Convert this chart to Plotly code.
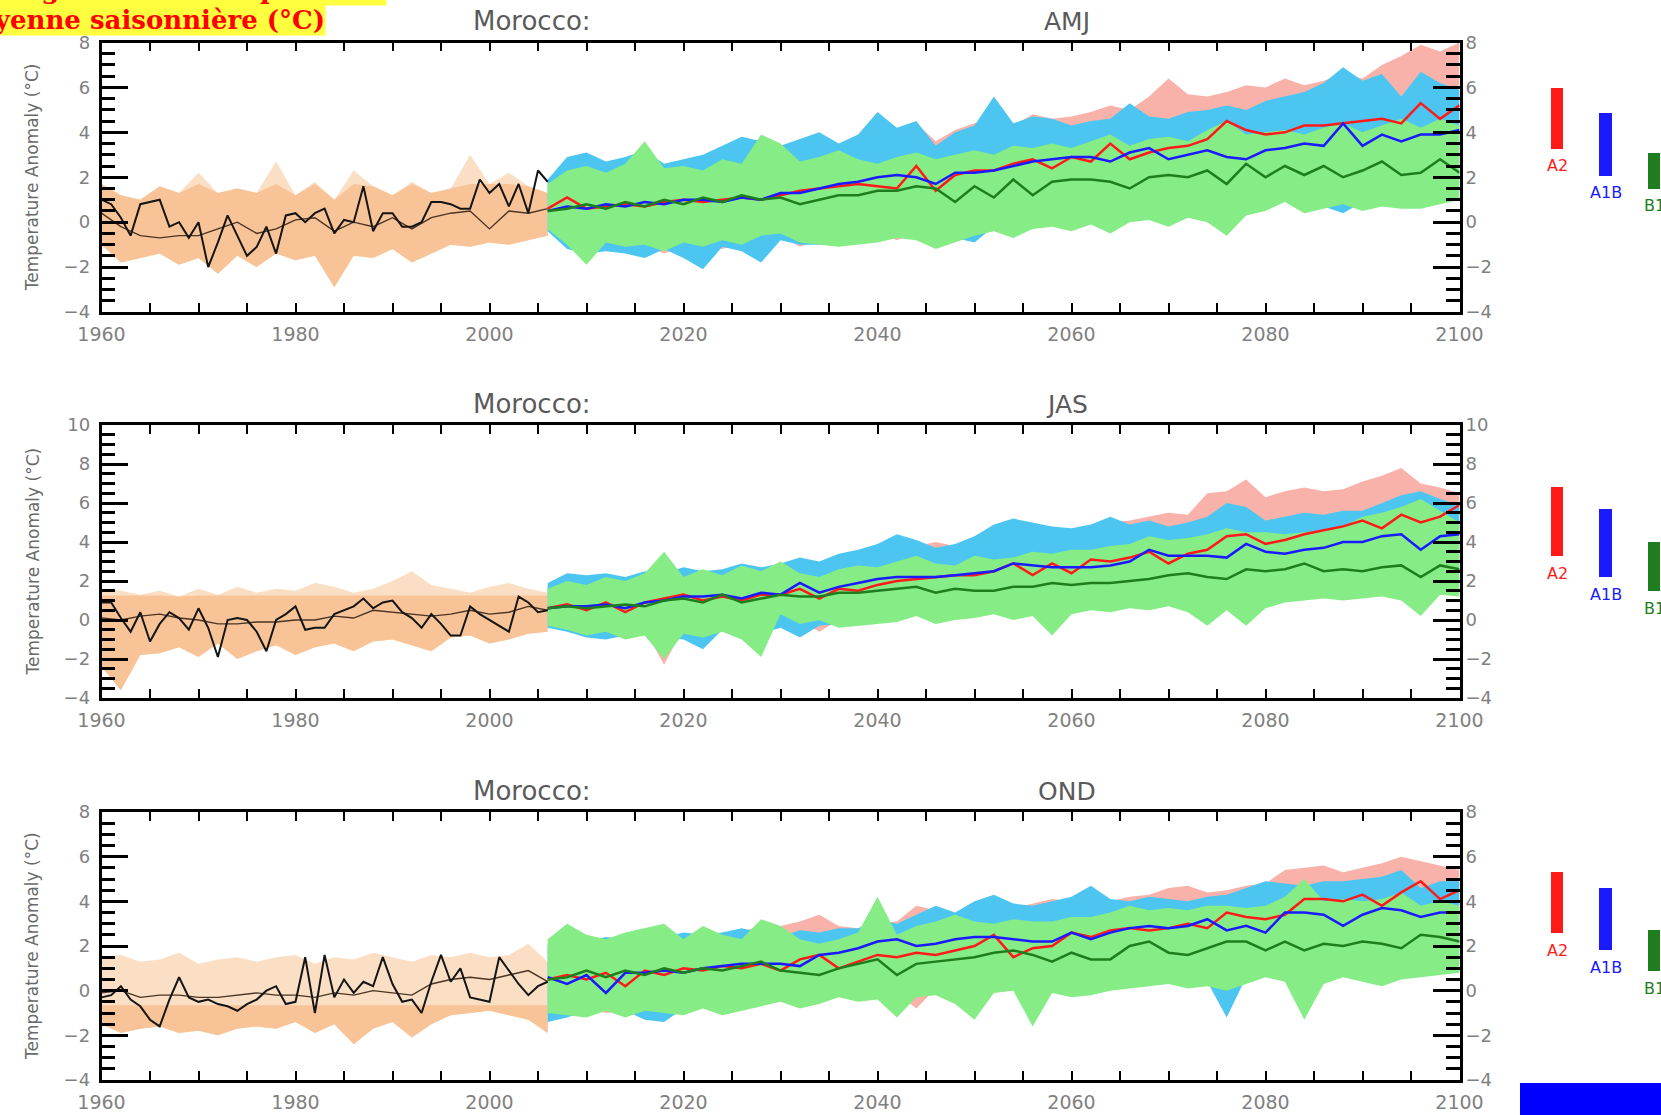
import plotly.graph_objects as go

W, H = 1661, 1115

# ---------------- data ----------------
obs_years = list(range(1960, 2007))
hist_years = list(range(1960, 2007, 2))
proj_years = list(range(2006, 2101, 2))
x_ticks = list(range(1960, 2101, 20))
scenarios = ["A2", "A1B", "B1"]
season_labels = ["AMJ", "JAS", "OND"]
country_label = "Morocco:"
y_title = "Temperature Anomaly (°C)"
title_line1 = "Changement de température"
title_line2 = "moyenne saisonnière (°C)"

# ----- AMJ -----
amj_obs = [1.0, 0.8, 0.2, -0.6, 0.8, 0.9, 1.0, -0.2, 0.0, -0.7,
           0.0, -2.0, -0.9, 0.3, -0.6, -1.5, -1.1, -0.2, -1.4, 0.3,
           0.4, 0.0, 0.4, 0.6, -0.5, 0.1, 0.0, 1.6, -0.4, 0.4,
           0.4, -0.2, -0.2, 0.0, 0.9, 0.9, 0.8, 0.6, 0.6, 1.9,
           1.3, 1.7, 0.7, 1.7, 0.4, 2.3, 1.8]
amj_hist_mean = [0.4, -0.2, -0.6, -0.7, -0.6, -0.6, -0.3, 0.0, -0.5, -0.3, 0.1, 0.2,
                 -0.4, 0.0, -0.2, 0.2, -0.3, 0.2, 0.4, 0.5, -0.3, 0.5, 0.4, 0.6]
amj_hist_hi = [1.7, 1.2, 1.0, 1.6, 1.3, 2.2, 1.3, 1.5, 1.3, 2.7, 1.2, 1.8,
               1.0, 2.3, 1.6, 1.2, 1.8, 1.3, 1.5, 3.0, 1.7, 2.2, 1.6, 1.3]
amj_hist_lo = [-1.0, -1.8, -1.6, -1.4, -1.9, -1.6, -2.3, -1.5, -2.0, -1.4, -1.7, -1.5,
               -2.9, -1.5, -1.6, -1.2, -1.8, -1.4, -1.0, -1.1, -0.9, -1.0, -0.8, -0.6]
amj_a2_mean = [0.6, 1.1, 0.6, 0.7, 0.8, 0.7, 0.9, 1.0,
               0.9, 1.0, 1.1, 1.0, 1.2, 1.4, 1.5, 1.6,
               1.7, 1.6, 1.5, 2.5, 1.4, 2.1, 2.3, 2.3,
               2.6, 2.8, 2.4, 2.9, 2.7, 3.5, 2.8, 3.1,
               3.3, 3.4, 3.7, 4.5, 4.1, 3.9, 4.0, 4.3,
               4.3, 4.4, 4.5, 4.6, 4.4, 5.3, 4.6, 5.2]
amj_a1b_mean = [0.5, 0.7, 0.6, 0.8, 0.7, 0.9, 0.8, 1.0,
                1.0, 0.9, 1.1, 1.0, 1.3, 1.3, 1.5, 1.7,
                1.8, 2.0, 2.1, 2.0, 1.7, 2.2, 2.2, 2.3,
                2.5, 2.7, 2.8, 2.9, 2.9, 2.7, 3.1, 3.3,
                2.8, 3.0, 3.2, 2.9, 2.8, 3.2, 3.3, 3.5,
                3.4, 4.4, 3.4, 3.9, 3.6, 3.9, 3.9, 4.1]
amj_b1_mean = [0.5, 0.6, 0.8, 0.6, 0.9, 0.7, 1.0, 0.8,
               1.1, 0.9, 1.2, 1.0, 1.1, 0.8, 1.0, 1.2,
               1.2, 1.4, 1.4, 1.6, 1.5, 0.9, 1.6, 1.1,
               1.9, 1.2, 1.8, 1.9, 1.9, 1.8, 1.5, 2.0,
               2.1, 2.0, 2.3, 1.7, 2.6, 2.0, 2.5, 2.1,
               2.5, 2.0, 2.3, 2.7, 2.1, 2.2, 2.8, 2.2]
amj_b1_lo = [-0.3, -1.0, -1.9, -0.9, -1.1, -1.0, -1.3, -0.9,
             -1.1, -0.8, -1.0, -0.6, -0.5, -0.9, -1.0, -1.1,
             -1.0, -0.9, -0.7, -0.8, -1.2, -0.9, -0.6, -0.4,
             -0.7, -0.3, -0.2, -0.4, -0.1, -0.5, 0.0, 0.1,
             -0.2, 0.2, 0.0, -0.6, 0.3, 0.5, 0.9, 0.4,
             0.6, 0.8, 0.5, 0.7, 0.6, 0.6, 0.8, 1.0]
amj_b1_hi = [1.7, 2.3, 2.5, 2.2, 2.6, 3.6, 2.4, 2.5,
             2.3, 2.8, 2.6, 3.9, 3.5, 2.7, 2.9, 3.2,
             2.8, 2.6, 2.9, 3.1, 2.8, 3.0, 3.2, 3.0,
             3.4, 3.3, 3.5, 3.3, 3.6, 3.9, 3.4, 3.7,
             3.8, 3.6, 4.1, 4.5, 3.9, 4.0, 4.1, 3.9,
             4.2, 4.4, 4.0, 4.3, 4.6, 4.2, 4.6, 4.3]
amj_a1b_lo = [-0.4, -1.2, -1.4, -1.3, -1.4, -1.6, -1.2, -1.6,
              -2.1, -1.1, -1.3, -1.8, -0.8, -1.0, -1.0, -0.9,
              -0.7, -0.6, -0.5, -0.6, -0.8, -0.7, -0.9, -0.2,
              -0.3, 0.0, 0.1, -0.1, 0.2, 0.1, 0.3, 0.4,
              0.3, 0.5, 0.4, 0.6, 0.7, 0.8, 1.0, 0.8,
              0.7, 0.4, 0.9, 1.0, 1.1, 1.0, 1.2, 1.3]
amj_a1b_hi = [1.9, 2.9, 3.1, 2.7, 2.9, 3.2, 2.6, 2.8,
              3.0, 3.4, 3.8, 3.6, 3.4, 3.7, 4.0, 3.5,
              3.9, 4.9, 4.2, 4.5, 3.4, 4.0, 4.3, 5.6,
              4.4, 4.7, 4.6, 4.3, 4.5, 4.6, 5.3, 4.7,
              4.6, 4.9, 5.0, 5.2, 5.0, 5.4, 5.6, 5.8,
              6.2, 6.9, 6.3, 6.6, 5.6, 6.7, 6.2, 5.9]
amj_a2_lo = [-0.3, -0.8, -1.1, -1.0, -1.2, -1.0, -1.4, -1.1,
             -1.0, -1.2, -0.9, -0.8, -0.6, -1.1, -0.8, -0.7,
             -0.6, -0.4, -0.8, -0.5, -0.3, -0.2, 0.0, 0.1,
             0.2, 0.3, 0.4, 0.6, 0.5, 0.7, 0.8, 1.0,
             1.1, 1.0, 1.2, 1.3, 1.4, 1.5, 1.6, 1.7,
             1.8, 1.9, 2.0, 2.1, 2.2, 2.3, 2.4, 2.5]
amj_a2_hi = [1.8, 2.5, 2.8, 2.6, 2.7, 3.0, 2.5, 2.7,
             2.8, 3.1, 3.4, 3.5, 3.3, 3.6, 3.8, 3.4,
             3.8, 4.3, 4.0, 4.4, 3.6, 4.1, 4.4, 4.6,
             4.3, 4.8, 4.6, 4.7, 4.9, 5.2, 5.0, 5.6,
             6.4, 5.7, 5.6, 5.8, 6.1, 6.0, 6.4, 6.1,
             6.3, 6.6, 6.4, 7.0, 7.4, 7.9, 7.6, 8.0]
amj_bar_lo = [3.3, 2.1, 1.5]
amj_bar_hi = [6.0, 4.9, 3.1]

# ----- JAS -----
jas_obs = [0.9, 0.9, 0.1, -0.6, 0.4, -1.1, -0.2, 0.4, 0.1, -0.5,
           0.6, -0.4, -1.9, 0.0, 0.1, 0.0, -0.6, -1.6, 0.0, 0.3,
           0.7, -0.5, -0.4, -0.4, 0.3, 0.5, 0.7, 1.1, 0.6, 0.9,
           1.0, 0.4, 0.1, -0.4, 0.3, -0.2, -0.8, -0.8, 0.7, 0.3,
           0.0, -0.3, -0.6, 1.2, 0.9, 0.4, 0.5]
jas_hist_mean = [0.1, 0.0, 0.2, 0.3, 0.1, 0.0, -0.2, -0.2, -0.1, -0.1, 0.0, 0.0,
                 0.2, 0.1, 0.5, 0.4, 0.3, 0.2, 0.3, 0.5, 0.3, 0.4, 0.7, 0.5]
jas_hist_hi = [1.6, 1.5, 1.3, 1.5, 1.2, 1.6, 1.3, 1.7, 1.4, 1.6, 1.5, 1.9,
               1.7, 1.4, 1.6, 2.0, 2.5, 1.8, 1.6, 1.4, 1.7, 1.9, 1.6, 1.4]
jas_hist_lo = [-2.4, -3.6, -1.8, -1.7, -1.4, -1.9, -1.2, -2.0, -1.6, -1.3, -1.8, -1.4,
               -1.2, -1.6, -1.1, -1.0, -1.3, -1.6, -0.9, -0.8, -1.2, -1.0, -0.7, -0.6]
jas_a2_mean = [0.6, 0.8, 0.5, 0.9, 0.4, 0.9, 1.1, 1.3,
               1.0, 1.2, 1.0, 1.3, 1.3, 1.6, 1.1, 1.6,
               1.5, 1.8, 2.0, 2.1, 2.2, 2.3, 2.3, 2.5,
               2.9, 2.3, 2.9, 2.4, 3.1, 3.0, 3.2, 3.5,
               2.9, 3.4, 3.6, 4.3, 4.4, 3.9, 4.1, 4.4,
               4.6, 4.8, 5.1, 4.7, 5.4, 5.0, 5.3, 5.9]
jas_a1b_mean = [0.6, 0.7, 0.7, 0.8, 0.6, 0.9, 1.0, 1.2,
                1.2, 1.3, 1.1, 1.4, 1.3, 1.9, 1.4, 1.7,
                1.9, 2.1, 2.2, 2.2, 2.2, 2.3, 2.4, 2.5,
                2.9, 2.8, 2.7, 2.7, 2.7, 2.8, 3.0, 3.6,
                3.3, 3.3, 3.3, 3.2, 3.9, 3.5, 3.4, 3.6,
                3.7, 4.0, 4.0, 4.3, 4.4, 3.6, 4.3, 4.4]
jas_b1_mean = [0.6, 0.7, 0.6, 0.7, 0.8, 0.7, 1.0, 1.1,
               0.9, 1.3, 0.9, 1.1, 1.3, 1.2, 1.2, 1.4,
               1.4, 1.5, 1.6, 1.7, 1.4, 1.6, 1.5, 1.5,
               1.7, 1.7, 1.9, 1.8, 1.9, 1.9, 2.0, 2.1,
               2.3, 2.4, 2.2, 2.1, 2.6, 2.5, 2.6, 2.9,
               2.5, 2.6, 2.5, 2.7, 2.8, 2.2, 2.8, 2.6]
jas_b1_lo = [-0.3, -0.5, -0.8, -0.6, -1.0, -0.8, -2.0, -0.7,
             -0.9, -0.6, -1.0, -1.9, 0.3, -0.2, 0.0, -0.4,
             -0.3, -0.2, -0.1, 0.2, -0.2, 0.0, 0.1, 0.3,
             0.0, 0.2, -0.8, 0.3, 0.5, 0.4, 0.6, 0.5,
             0.7, 0.4, -0.3, 0.5, -0.3, 0.6, 0.9, 1.0,
             1.1, 1.0, 1.1, 1.2, 1.0, 0.2, 1.3, 1.2]
jas_b1_hi = [1.6, 2.0, 1.8, 2.2, 2.0, 2.4, 3.5, 2.2,
             2.6, 2.3, 2.8, 2.5, 3.0, 2.4, 2.2, 2.6,
             2.8, 2.7, 3.0, 3.3, 2.9, 2.8, 3.3, 3.1,
             3.2, 3.5, 3.4, 3.6, 3.6, 3.8, 3.9, 4.3,
             4.1, 4.2, 4.4, 4.7, 4.5, 4.5, 4.4, 4.5,
             4.6, 4.8, 5.3, 5.5, 5.8, 6.2, 5.6, 5.0]
jas_a1b_lo = [-0.4, -0.6, -0.9, -1.0, -0.8, -0.6, -0.9, -1.0,
              -1.5, -0.5, -0.6, -0.7, -0.4, -0.9, -0.3, -0.2,
              -0.1, 0.1, 0.2, 0.3, 0.2, 0.4, 0.5, 0.5,
              0.4, 0.6, 0.3, 0.7, 0.8, 0.9, 1.0, 0.9,
              1.1, 1.0, 1.2, 1.1, 1.3, 1.2, 1.3, 1.4,
              1.5, 1.3, 1.6, 1.4, 1.6, 1.7, 1.6, 1.8]
jas_a1b_hi = [1.9, 2.4, 2.3, 2.4, 2.2, 2.5, 2.4, 2.7,
              2.5, 2.6, 2.9, 2.7, 2.9, 3.2, 3.0, 3.4,
              3.6, 3.9, 4.4, 4.1, 3.7, 3.9, 4.3, 4.9,
              5.2, 5.0, 4.8, 4.7, 4.9, 5.3, 4.9, 5.1,
              4.8, 5.0, 5.3, 6.0, 5.8, 5.1, 5.3, 5.5,
              5.4, 5.6, 5.6, 6.0, 6.4, 6.6, 6.2, 5.9]
jas_a2_lo = [-0.3, -0.4, -0.5, -0.4, -0.6, -0.5, -2.3, -0.4,
             -0.6, -0.4, -0.5, -0.3, -0.2, 0.0, -0.6, 0.0,
             0.1, 0.2, 0.3, 0.4, 0.5, 0.6, 0.6, 0.8,
             0.9, 1.0, 1.0, 1.1, 1.2, 1.3, 1.3, 1.5,
             1.6, 1.6, 1.7, 1.8, 1.9, 2.0, 2.1, 2.1,
             2.2, 2.3, 2.4, 2.5, 2.5, 2.6, 2.7, 2.8]
jas_a2_hi = [1.8, 2.2, 2.1, 2.3, 2.1, 2.4, 2.3, 2.5,
             2.4, 2.5, 2.7, 2.6, 2.7, 2.9, 2.8, 3.2,
             3.4, 3.6, 3.9, 3.8, 4.0, 3.8, 4.1, 4.5,
             4.7, 4.6, 4.5, 4.4, 4.8, 5.0, 5.1, 5.3,
             5.5, 5.4, 6.5, 6.6, 7.2, 6.3, 6.6, 6.8,
             6.6, 6.7, 7.1, 7.4, 7.8, 7.0, 6.8, 6.5]
jas_bar_lo = [3.3, 2.2, 1.5]
jas_bar_hi = [6.8, 5.7, 4.0]

# ----- OND -----
ond_obs = [-0.3, -0.2, 0.2, -0.4, -0.7, -1.3, -1.6, -0.4, 0.6, -0.3,
           -0.5, -0.4, -0.6, -0.7, -0.9, -0.6, -0.4, 0.0, 0.2, -0.6,
           -0.5, 1.5, -1.0, 1.6, -0.3, 0.5, -0.1, 0.4, 0.2, 1.5,
           0.3, -0.5, -0.4, -1.0, 0.4, 1.6, 0.4, 1.0, -0.3, -0.4,
           -0.5, 1.5, 0.9, 0.3, -0.2, 0.2, 0.4]
ond_hist_mean = [-0.1, 0.0, -0.3, -0.2, -0.2, -0.3, -0.3, -0.2, -0.1, -0.2, -0.2, -0.3,
                 -0.1, -0.2, 0.0, -0.1, -0.2, 0.3, 0.5, 0.6, 0.5, 0.7, 0.9, 0.4]
ond_hist_hi = [1.5, 1.6, 1.3, 1.4, 1.7, 1.2, 1.4, 1.5, 1.3, 1.5, 1.6, 1.2,
               1.5, 1.4, 1.7, 1.5, 1.3, 1.6, 1.5, 1.7, 1.5, 1.6, 2.1, 1.3]
ond_hist_lo = [-1.5, -1.9, -1.7, -1.6, -1.9, -1.8, -2.0, -1.7, -1.6, -1.7, -1.4, -1.9,
               -1.5, -2.4, -1.7, -1.4, -2.1, -1.5, -1.1, -1.0, -0.9, -1.1, -1.3, -1.9]
ond_a2_mean = [0.5, 0.7, 0.5, 0.8, 0.2, 0.9, 0.7, 1.0,
               0.9, 1.1, 1.0, 1.2, 0.9, 1.4, 1.6, 1.0,
               1.3, 1.6, 1.5, 1.7, 1.6, 1.8, 2.0, 2.5,
               1.5, 1.9, 2.0, 2.6, 2.4, 2.7, 2.8, 2.7,
               2.8, 3.0, 2.8, 3.5, 3.3, 3.2, 3.4, 4.1,
               4.1, 4.0, 4.3, 3.8, 4.4, 4.9, 4.1, 4.5]
ond_a1b_mean = [0.6, 0.3, 0.7, -0.1, 0.8, 0.8, 0.9, 0.8,
                1.0, 1.1, 1.2, 1.2, 1.2, 1.1, 1.6, 1.7,
                1.9, 2.2, 2.3, 2.0, 2.1, 2.3, 2.4, 2.4,
                2.3, 2.2, 2.2, 2.6, 2.3, 2.6, 2.8, 2.9,
                2.8, 2.9, 3.2, 2.7, 2.9, 2.6, 3.5, 3.5,
                3.4, 2.9, 3.4, 3.7, 3.6, 3.3, 3.5, 3.5]
ond_b1_mean = [0.5, 0.6, 0.9, 0.6, 0.9, 0.7, 1.0, 0.8,
               1.0, 0.9, 1.1, 1.3, 0.9, 0.8, 0.7, 1.0,
               1.2, 1.4, 0.7, 1.2, 1.3, 1.4, 1.5, 1.7,
               1.8, 1.6, 1.3, 1.7, 1.4, 1.4, 2.0, 2.2,
               1.7, 1.6, 1.9, 2.2, 2.2, 1.8, 2.2, 1.8,
               2.1, 2.0, 2.2, 2.1, 1.9, 2.5, 2.4, 2.2]
ond_b1_lo = [-1.0, -1.1, -1.2, -0.9, -1.2, -0.9, -1.0, -1.1,
             -0.8, -1.1, -0.9, -0.7, -0.5, -0.8, -0.6, -0.3,
             -0.5, -0.4, -1.2, -0.3, -0.2, -0.6, -1.3, -0.1,
             0.0, -1.6, -0.1, -0.3, -0.2, 0.0, 0.1, 0.2,
             0.3, 0.1, 0.2, 0.0, 0.3, 0.6, 0.4, -1.3,
             0.3, 0.6, 0.4, 0.2, 0.5, 0.6, 0.7, 0.8]
ond_b1_hi = [2.3, 3.0, 2.5, 2.3, 2.6, 2.8, 3.0, 2.3,
             2.9, 2.5, 2.3, 3.2, 2.9, 2.3, 2.1, 2.3,
             2.6, 4.2, 2.5, 2.9, 3.1, 3.4, 3.1, 3.0,
             3.2, 3.1, 3.1, 3.3, 3.3, 3.5, 3.8, 3.6,
             3.7, 3.6, 3.8, 3.8, 3.7, 3.8, 4.2, 5.0,
             4.0, 4.1, 4.0, 4.1, 4.4, 3.8, 4.0, 3.8]
ond_a1b_lo = [-1.4, -1.2, -0.9, -0.8, -0.9, -1.3, -1.4, -0.8,
              -0.7, -0.9, -0.6, -0.5, -0.4, -0.7, -0.3, -0.2,
              -0.1, -0.2, 0.0, 0.1, -0.1, -0.4, -0.6, 0.2,
              0.3, 0.2, 0.4, 0.3, 0.5, 0.4, 0.6, 0.5,
              0.7, 0.6, 0.4, -1.2, 0.6, 0.8, 0.9, 0.8,
              1.0, 0.9, 1.1, 1.0, 1.2, 1.1, 1.3, 1.2]
ond_a1b_hi = [2.1, 2.4, 2.2, 2.4, 2.3, 2.5, 2.4, 2.6,
              2.5, 2.6, 2.8, 2.6, 2.4, 2.7, 2.6, 2.8,
              2.8, 3.2, 3.0, 3.4, 3.8, 3.5, 4.0, 4.3,
              3.9, 3.8, 4.0, 4.2, 4.7, 4.1, 4.0, 4.2,
              4.1, 4.0, 4.2, 4.3, 4.6, 4.9, 4.8, 4.7,
              4.9, 4.9, 5.0, 5.1, 5.4, 4.6, 4.9, 4.9]
ond_a2_lo = [-0.6, -0.7, -0.8, -1.0, -0.9, -0.6, -0.7, -0.5,
             -0.6, -0.4, -0.5, -0.3, -0.4, -0.2, -0.3, -0.1,
             0.0, -0.2, -0.1, -0.8, 0.1, 0.2, 0.3, 0.4,
             0.5, 0.5, 0.6, 0.7, 0.8, 0.8, 0.9, 1.0,
             1.1, 1.1, 1.2, 1.3, 1.4, 1.5, 1.5, 1.6,
             1.7, 1.8, 1.8, 1.9, 2.0, 2.1, 2.1, 2.2]
ond_a2_hi = [2.0, 2.3, 2.1, 2.2, 2.2, 2.4, 2.3, 2.5,
             2.4, 2.5, 2.7, 2.8, 2.9, 3.1, 3.4, 2.9,
             2.8, 3.0, 3.1, 3.8, 3.6, 3.4, 3.6, 3.9,
             3.7, 3.9, 4.1, 4.0, 4.3, 4.0, 4.2, 4.3,
             4.6, 4.7, 4.4, 4.5, 4.7, 4.8, 5.4, 5.5,
             5.6, 5.3, 5.5, 5.7, 6.0, 5.8, 5.6, 5.4]
ond_bar_lo = [2.6, 1.8, 0.9]
ond_bar_hi = [5.3, 4.6, 2.7]

# ---------------- styles ----------------
C_ORANGE = "#F8C497"
C_ORANGE_PALE = "#FADFC4"
C_PINK = "#F8B2AA"
C_CYAN = "#4CC6F0"
C_GREEN = "#86EC86"
C_RED = "#FF1A1A"
C_BLUE = "#1A1AFF"
C_DKGREEN = "#1E7E1E"
C_OBS = "#151515"
C_HMEAN = "#4A3424"
scen_colors = [C_RED, C_BLUE, C_DKGREEN]
TICK_GRAY = "#808080"
FONT = "DejaVu Sans"

panels = [
    dict(obs=amj_obs, hm=amj_hist_mean, hlo=amj_hist_lo, hhi=amj_hist_hi,
         means=[amj_a2_mean, amj_a1b_mean, amj_b1_mean],
         los=[amj_a2_lo, amj_a1b_lo, amj_b1_lo], his=[amj_a2_hi, amj_a1b_hi, amj_b1_hi],
         blo=amj_bar_lo, bhi=amj_bar_hi, yr=[-4, 8], top=42.5, bot=312, pale=1.7),
    dict(obs=jas_obs, hm=jas_hist_mean, hlo=jas_hist_lo, hhi=jas_hist_hi,
         means=[jas_a2_mean, jas_a1b_mean, jas_b1_mean],
         los=[jas_a2_lo, jas_a1b_lo, jas_b1_lo], his=[jas_a2_hi, jas_a1b_hi, jas_b1_hi],
         blo=jas_bar_lo, bhi=jas_bar_hi, yr=[-4, 10], top=425, bot=698, pale=1.25),
    dict(obs=ond_obs, hm=ond_hist_mean, hlo=ond_hist_lo, hhi=ond_hist_hi,
         means=[ond_a2_mean, ond_a1b_mean, ond_b1_mean],
         los=[ond_a2_lo, ond_a1b_lo, ond_b1_lo], his=[ond_a2_hi, ond_a1b_hi, ond_b1_hi],
         blo=ond_bar_lo, bhi=ond_bar_hi, yr=[-4, 8], top=812, bot=1080, pale=-0.65),
]

for p in panels:
    assert len(p["obs"]) == len(obs_years)
    for arr in (p["hm"], p["hlo"], p["hhi"]):
        assert len(arr) == len(hist_years)
    for arr in p["means"] + p["los"] + p["his"]:
        assert len(arr) == len(proj_years), len(arr)

X_L, X_R = 101.5, 1459.5
LEG_L, LEG_R = 1530, 1661


def band(x, lo, hi, color, xa, ya):
    return go.Scatter(x=list(x) + list(x)[::-1], y=list(hi) + list(lo)[::-1],
                      fill="toself", fillcolor=color, mode="lines", line=dict(width=0),
                      hoverinfo="skip", showlegend=False, xaxis=xa, yaxis=ya)


def line(x, y, color, width, xa, ya):
    return go.Scatter(x=x, y=y, mode="lines", line=dict(color=color, width=width),
                      hoverinfo="skip", showlegend=False, xaxis=xa, yaxis=ya)


fig = go.Figure()
layout = dict(width=W, height=H, margin=dict(l=0, r=0, t=0, b=0, autoexpand=False),
              paper_bgcolor="white", plot_bgcolor="white", showlegend=False)
annotations = []

for i, p in enumerate(panels):
    n = "" if i == 0 else str(i + 1)
    xa, ya = "x" + n, "y" + n
    ya_r = "y" + str(i + 4)      # right-hand labels
    xa_l = "x" + str(i + 4)      # legend bars x
    ya_l = "y" + str(i + 7)      # legend bars y
    dom_y = [1 - p["bot"] / H, 1 - p["top"] / H]

    # historical envelope (pale upper part, vivid lower part)
    fig.add_trace(band(hist_years, p["hlo"], p["hhi"], C_ORANGE_PALE, xa, ya))
    fig.add_trace(band(hist_years, p["hlo"], [min(v, p["pale"]) for v in p["hhi"]], C_ORANGE, xa, ya))
    # scenario envelopes A2, A1B, B1
    for lo, hi, col in zip(p["los"], p["his"], [C_PINK, C_CYAN, C_GREEN]):
        fig.add_trace(band(proj_years, lo, hi, col, xa, ya))
    fig.add_trace(line(hist_years, p["hm"], C_HMEAN, 1.4, xa, ya))
    fig.add_trace(line(obs_years, p["obs"], C_OBS, 2, xa, ya))
    for m, col in zip(p["means"], scen_colors):
        fig.add_trace(line(proj_years, m, col, 2.5, xa, ya))
    # invisible trace to carry the right-hand tick labels
    fig.add_trace(go.Scatter(x=obs_years, y=p["obs"], mode="lines", line=dict(width=0),
                             opacity=0, hoverinfo="skip", showlegend=False, xaxis=xa, yaxis=ya_r))
    # end-of-century range bars
    fig.add_trace(go.Bar(x=[0, 1, 2], y=[h - l for h, l in zip(p["bhi"], p["blo"])], base=p["blo"],
                         width=0.26, marker=dict(color=scen_colors, line=dict(width=0)),
                         hoverinfo="skip", showlegend=False, xaxis=xa_l, yaxis=ya_l))

    ticks_y = list(range(p["yr"][0], p["yr"][1] + 1, 2))
    layout["xaxis" + n] = dict(domain=[X_L / W, X_R / W], range=[1960, 2100], anchor=ya,
                               tickvals=x_ticks, ticks="inside", ticklen=9, tickwidth=2,
                               tickcolor="black", showline=True, linecolor="black", linewidth=2.5,
                               mirror="allticks", showgrid=False, zeroline=False,
                               tickfont=dict(family=FONT, size=19, color=TICK_GRAY),
                               ticklabelstandoff=3,
                               minor=dict(dtick=5, ticklen=5, tickwidth=2, tickcolor="black",
                                          ticks="inside", showgrid=False))
    layout["yaxis" + n] = dict(domain=dom_y, range=p["yr"], anchor=xa, tickvals=ticks_y,
                               ticks="inside", ticklen=27, tickwidth=2.5, tickcolor="black",
                               showline=True, linecolor="black", linewidth=2.5,
                               mirror="allticks", showgrid=False, zeroline=False,
                               tickfont=dict(family=FONT, size=18, color=TICK_GRAY),
                               ticklabelstandoff=5,
                               minor=dict(dtick=0.5, tick0=0, ticklen=14, tickwidth=2.5,
                                          tickcolor="black", ticks="inside", showgrid=False))
    layout["yaxis" + str(i + 4)] = dict(overlaying=ya, side="right", anchor=xa, range=p["yr"],
                                        tickvals=ticks_y, ticks="", showline=False, showgrid=False,
                                        zeroline=False, ticklabelstandoff=5,
                                        tickfont=dict(family=FONT, size=18, color=TICK_GRAY))
    layout["xaxis" + str(i + 4)] = dict(domain=[LEG_L / W, LEG_R / W], range=[-0.557, 2.144],
                                        anchor=ya_l, visible=False, fixedrange=True)
    layout["yaxis" + str(i + 7)] = dict(domain=dom_y, range=p["yr"], anchor=xa_l,
                                        visible=False, fixedrange=True)

    # panel titles
    ty = 1 - (p["top"] - 21) / H
    annotations.append(dict(x=532 / W, y=ty, xref="paper", yref="paper", text=country_label,
                            showarrow=False, font=dict(family=FONT, size=26, color="#5a5a5a"),
                            xanchor="center", yanchor="middle"))
    annotations.append(dict(x=1067 / W, y=ty, xref="paper", yref="paper", text=season_labels[i],
                            showarrow=False, font=dict(family=FONT, size=25, color="#5a5a5a"),
                            xanchor="center", yanchor="middle"))
    # y-axis title
    annotations.append(dict(x=32 / W, y=1 - (p["top"] + p["bot"]) / 2 / H, xref="paper", yref="paper",
                            text=y_title, textangle=-90, showarrow=False,
                            font=dict(family=FONT, size=17, color="#6a6a6a"),
                            xanchor="center", yanchor="middle"))
    # scenario labels below the bars
    for k, (name, col) in enumerate(zip(scenarios, scen_colors)):
        annotations.append(dict(x=k, y=p["blo"][k], xref=xa_l, yref=ya_l, text=name, showarrow=False,
                                font=dict(family=FONT, size=16, color=col),
                                xanchor="center", yanchor="top", yshift=-6))

# top-left headline (partly cut off by the page edges, as in the source image)
annotations.append(dict(x=387 / W, y=1 + 10 / H, xref="paper", yref="paper",
                        text="<b>" + title_line1 + "</b>",
                        showarrow=False, xanchor="right", yanchor="middle", bgcolor="#FFFF40",
                        borderpad=0, font=dict(family="DejaVu Serif", size=26, color="#FF0000")))
annotations.append(dict(x=-51 / W, y=1 - 20 / H, xref="paper", yref="paper",
                        text="<b>" + title_line2 + "</b>",
                        showarrow=False, xanchor="left", yanchor="middle", bgcolor="#FFFF40",
                        borderpad=0, font=dict(family="DejaVu Serif", size=26, color="#FF0000")))

layout["annotations"] = annotations
layout["shapes"] = [dict(type="rect", xref="paper", yref="paper", x0=1520 / W, x1=1.0,
                         y0=0, y1=1 - 1083 / H, fillcolor="#0000FF", line=dict(width=0))]
layout["bargap"] = 0
fig.update_layout(**layout)
fig.write_html("out.html", config={"displayModeBar": False},
               post_script="document.body.style.margin='0px';")
